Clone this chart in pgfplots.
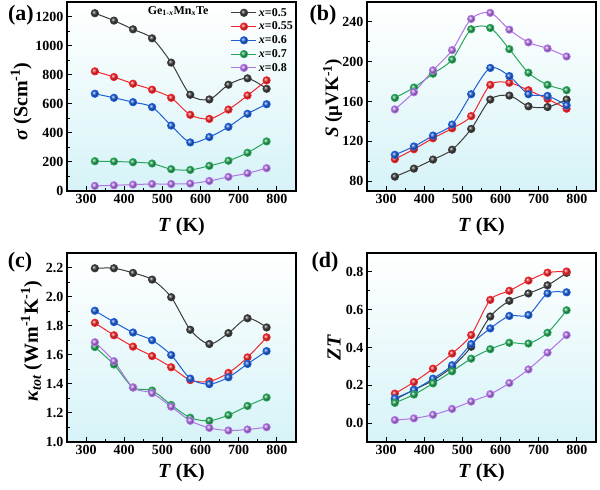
\documentclass[border=0pt]{standalone}
\usepackage{pgfplots}
\pgfplotsset{compat=1.18}
\usepackage{fontspec}
\setmainfont{Liberation Serif}

\definecolor{cK}{RGB}{60,60,60}
\definecolor{cR}{RGB}{240,40,45}
\definecolor{cB}{RGB}{30,95,215}
\definecolor{cG}{RGB}{40,165,90}
\definecolor{cP}{RGB}{178,115,228}
\definecolor{bgbot}{RGB}{214,243,247}

\pgfplotsset{
  panel/.style={
    scale only axis, width=229pt, height=189pt,
    xmin=250, xmax=850,
    xtick={300,400,...,800},
    minor x tick num=1, minor y tick num=1,
    tick pos=left, tick align=inside,
    major tick length=5pt, minor tick length=3pt,
    axis line style={line width=1.1pt},
    every tick/.style={line width=0.9pt, black},
    axis background/.style={top color=white, bottom color=bgbot},
    ticklabel style={font=\fontsize{14}{14}\selectfont\bfseries},
    /pgf/number format/assume math mode=true,
    /pgf/number format/1000 sep={},
    label style={font=\fontsize{20}{20}\selectfont\bfseries},
    xlabel={\textit{T} (K)},
    every axis plot/.append style={smooth, line width=1pt, mark=ball, mark size=3.6pt},
    legend image code/.code={\draw[mark repeat=2,mark phase=2] plot coordinates {(0pt,0pt) (12.5pt,0pt) (25pt,0pt)};},
  },
  sK/.style={color=cK, mark options={ball color=cK}},
  sR/.style={color=cR, mark options={ball color=cR}},
  sB/.style={color=cB, mark options={ball color=cB}},
  sG/.style={color=cG, mark options={ball color=cG}},
  sP/.style={color=cP, mark options={ball color=cP}},
}

\begin{document}
\begin{tikzpicture}[x=1pt,y=1pt]
\useasboundingbox (0,0) rectangle (600,490);

% (a) electrical conductivity
\begin{axis}[panel, at={(67pt,299pt)}, anchor=south west,
  ymin=0, ymax=1300, ytick={0,200,...,1200},
  ylabel={\textit{σ} (Scm\textsuperscript{-1})},
  ylabel style={at={(axis description cs:-0.200,0.473)}, anchor=center},
  xlabel style={at={(axis description cs:0.5,-0.19)}, anchor=center},
  legend style={at={(1,0.985)}, anchor=north east, draw=none, fill=none,
    font=\fontsize{12}{12}\selectfont\bfseries, row sep=0.3pt, inner sep=1pt},
  legend cell align=left]
\addplot[sK] coordinates {(323,1223)(373,1172)(423,1112)(473,1050)(523,883)(573,662)(623,630)(673,731)(723,775)(773,703)};
\addlegendentry{\textit{x}=0.5}
\addplot[sR] coordinates {(323,823)(373,784)(423,738)(473,697)(523,641)(573,524)(623,496)(673,560)(723,657)(773,761)};
\addlegendentry{\textit{x}=0.55}
\addplot[sB] coordinates {(323,669)(373,641)(423,611)(473,577)(523,450)(573,334)(623,371)(673,441)(723,531)(773,597)};
\addlegendentry{\textit{x}=0.6}
\addplot[sG] coordinates {(323,205)(373,203)(423,198)(473,189)(523,150)(573,145)(623,173)(673,208)(723,263)(773,341)};
\addlegendentry{\textit{x}=0.7}
\addplot[sP] coordinates {(323,35)(373,39)(423,44)(473,48)(523,48)(573,51)(623,69)(673,97)(723,122)(773,157)};
\addlegendentry{\textit{x}=0.8}
\node[font=\fontsize{12}{12}\selectfont\bfseries] at (rel axis cs:0.485,0.952) {Ge\textsubscript{1-\textit{x}}Mn\textsubscript{\textit{x}}Te};
\end{axis}

% (b) Seebeck coefficient
\begin{axis}[panel, at={(367pt,299pt)}, anchor=south west,
  ymin=70, ymax=260, ytick={80,120,...,240},
  ylabel={\textit{S} (μVK\textsuperscript{-1})},
  ylabel style={at={(axis description cs:-0.150,0.49)}, anchor=center, font=\fontsize{19}{19}\selectfont\bfseries},
  xlabel style={at={(axis description cs:0.5,-0.19)}, anchor=center}]
\addplot[sK] coordinates {(323,84.4)(373,92.5)(423,101.6)(473,111.5)(523,132.4)(573,161.9)(623,165.9)(673,155.1)(723,154.4)(773,161.9)};
\addplot[sR] coordinates {(323,102)(373,112)(423,123)(473,133)(523,145.3)(573,176.7)(623,178.8)(673,171.3)(723,162.5)(773,152.7)};
\addplot[sB] coordinates {(323,106.4)(373,114.8)(423,125.7)(473,136.8)(523,167.3)(573,193.7)(623,185.5)(673,167.3)(723,165.6)(773,156.1)};
\addplot[sG] coordinates {(323,163.6)(373,174)(423,187.9)(473,202.1)(523,232.6)(573,233.9)(623,212.6)(673,188.9)(723,176.7)(773,171.3)};
\addplot[sP] coordinates {(323,152)(373,169.3)(423,191.3)(473,211.6)(523,243)(573,249.1)(623,232.2)(673,219.4)(723,213.3)(773,205.2)};
\end{axis}

% (c) total thermal conductivity
\begin{axis}[panel, at={(67pt,48pt)}, anchor=south west,
  ymin=1.0, ymax=2.3, ytick={1.0,1.2,...,2.21},
  yticklabel style={/pgf/number format/.cd, fixed, fixed zerofill, precision=1},
  ylabel={\textit{κ}\textsubscript{\textit{tot}} (Wm\textsuperscript{-1}K\textsuperscript{-1})},
  ylabel style={at={(axis description cs:-0.155,0.534)}, anchor=center},
  xlabel style={at={(axis description cs:0.5,-0.16)}, anchor=center}]
\addplot[sK] coordinates {(323,2.195)(373,2.195)(423,2.163)(473,2.117)(523,1.996)(573,1.772)(623,1.674)(673,1.749)(723,1.851)(773,1.788)};
\addplot[sR] coordinates {(323,1.820)(373,1.734)(423,1.656)(473,1.591)(523,1.514)(573,1.426)(623,1.417)(673,1.475)(723,1.582)(773,1.720)};
\addplot[sB] coordinates {(323,1.903)(373,1.825)(423,1.753)(473,1.700)(523,1.598)(573,1.436)(623,1.398)(673,1.445)(723,1.537)(773,1.625)};
\addplot[sG] coordinates {(323,1.653)(373,1.533)(423,1.375)(473,1.354)(523,1.255)(573,1.167)(623,1.146)(673,1.185)(723,1.248)(773,1.306)};
\addplot[sP] coordinates {(323,1.686)(373,1.556)(423,1.375)(473,1.336)(523,1.243)(573,1.146)(623,1.097)(673,1.079)(723,1.086)(773,1.102)};
\end{axis}

% (d) figure of merit
\begin{axis}[panel, at={(367pt,48pt)}, anchor=south west,
  ymin=-0.1, ymax=0.9, ytick={0,0.2,...,0.81},
  yticklabel style={/pgf/number format/.cd, fixed, fixed zerofill, precision=1},
  ylabel={\textit{ZT}},
  ylabel style={at={(axis description cs:-0.144,0.50)}, anchor=center},
  xlabel style={at={(axis description cs:0.5,-0.16)}, anchor=center}]
\addplot[sK] coordinates {(323,0.124)(373,0.176)(423,0.226)(473,0.297)(523,0.404)(573,0.564)(623,0.647)(673,0.686)(723,0.729)(773,0.795)};
\addplot[sR] coordinates {(323,0.156)(373,0.217)(423,0.288)(473,0.368)(523,0.466)(573,0.652)(623,0.700)(673,0.754)(723,0.796)(773,0.802)};
\addplot[sB] coordinates {(323,0.131)(373,0.176)(423,0.235)(473,0.306)(523,0.418)(573,0.501)(623,0.567)(673,0.572)(723,0.686)(773,0.692)};
\addplot[sG] coordinates {(323,0.107)(373,0.151)(423,0.210)(473,0.274)(523,0.341)(573,0.391)(623,0.425)(673,0.421)(723,0.478)(773,0.597)};
\addplot[sP] coordinates {(323,0.016)(373,0.025)(423,0.044)(473,0.075)(523,0.114)(573,0.153)(623,0.212)(673,0.284)(723,0.373)(773,0.466)};
\end{axis}

% panel letters
\node[font=\fontsize{22}{22}\selectfont\bfseries] at (21,475) {(a)};
\node[font=\fontsize{22}{22}\selectfont\bfseries] at (323,475) {(b)};
\node[font=\fontsize{22}{22}\selectfont\bfseries] at (20,228) {(c)};
\node[font=\fontsize{22}{22}\selectfont\bfseries] at (325,228) {(d)};
\end{tikzpicture}
\end{document}
